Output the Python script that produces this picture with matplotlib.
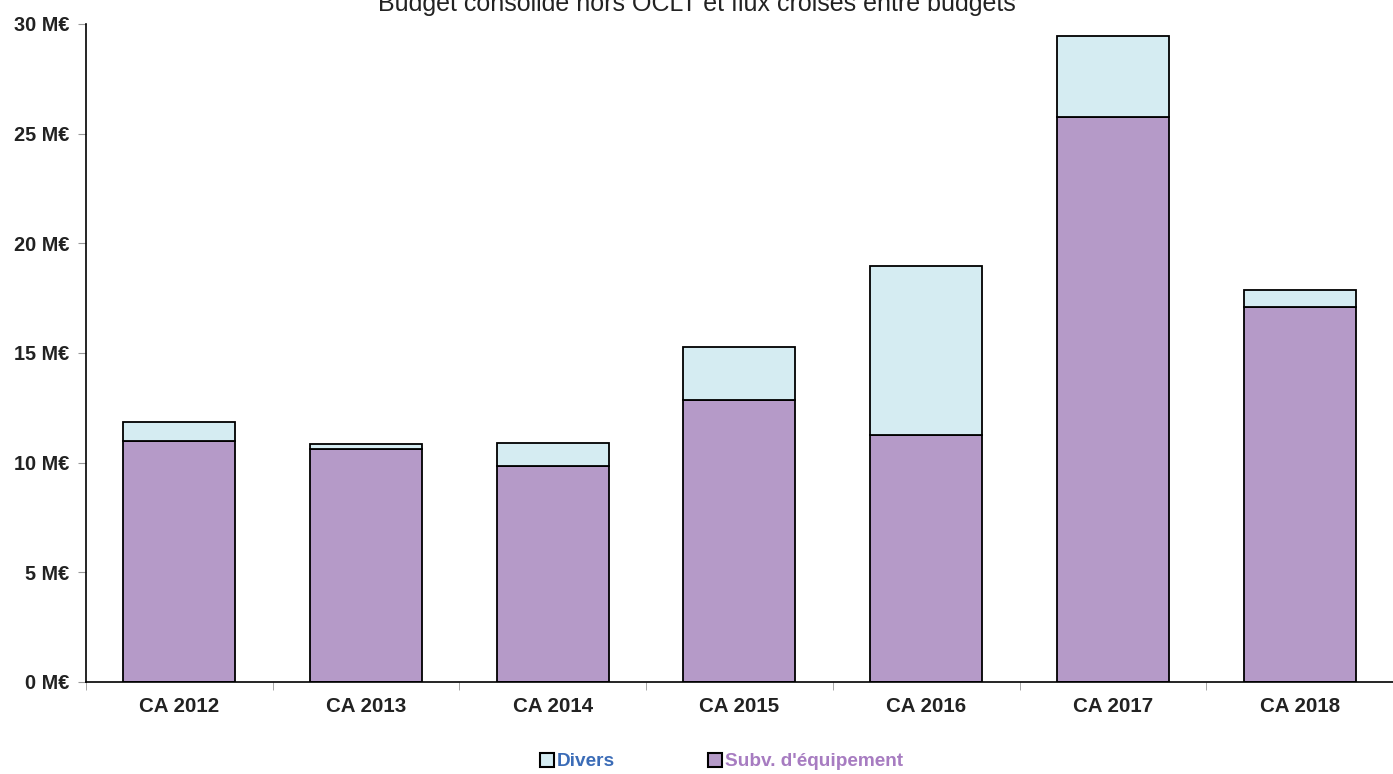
import matplotlib.pyplot as plt
import matplotlib.patches as mpatches
import numpy as np

plt.rcParams['font.family'] = ['Liberation Sans', 'DejaVu Sans']

# data (millions of euros)
annees = ["CA 2012", "CA 2013", "CA 2014", "CA 2015", "CA 2016", "CA 2017", "CA 2018"]
subv_equipement = [11.0, 10.62, 9.85, 12.86, 11.26, 25.76, 17.1]
divers = [0.86, 0.23, 1.05, 2.42, 7.71, 3.7, 0.77]

col_subv = "#b59ac8"
col_divers = "#d5ecf2"

fig = plt.figure(figsize=(13.93, 7.74), dpi=100)
ax = fig.add_axes([0.0617, 0.119, 0.9383, 0.85])

x = np.arange(len(annees))
ax.bar(x, subv_equipement, width=0.6, color=col_subv, edgecolor="black", linewidth=1.3)
ax.bar(x, divers, width=0.6, bottom=subv_equipement, color=col_divers,
       edgecolor="black", linewidth=1.3)

ax.set_xlim(-0.5, len(annees) - 0.5)
ax.set_ylim(0, 30)
ax.set_yticks([0, 5, 10, 15, 20, 25, 30])
ax.set_yticklabels([f"{v} M€" for v in [0, 5, 10, 15, 20, 25, 30]],
                   fontsize=14.3, fontweight="bold", color="#222222")
ax.set_xticks(x)
ax.set_xticklabels(annees, fontsize=14.8, fontweight="bold", color="#222222")
ax.set_xticks(np.arange(-0.5, len(annees)), minor=True)
ax.tick_params(axis="x", which="major", length=0, pad=11)
ax.tick_params(axis="x", which="minor", length=6, color="#999999", direction="out")
ax.tick_params(axis="y", length=6, color="#999999", pad=6)

for s in ["top", "right"]:
    ax.spines[s].set_visible(False)
ax.spines["left"].set_linewidth(1.2)
ax.spines["bottom"].set_linewidth(1.2)

fig.text(0.5, 0.986, "Budget consolidé hors OCLT et flux croisés entre budgets",
         ha="center", va="baseline", fontsize=18, color="#222222")

handles = [mpatches.Patch(facecolor=col_divers, edgecolor="black", linewidth=1.5),
           mpatches.Patch(facecolor=col_subv, edgecolor="black", linewidth=1.5)]
leg = fig.legend(handles, ["Divers", "Subv. d'équipement"], loc="center",
                 bbox_to_anchor=(0.518, 0.016), ncol=2, frameon=False,
                 handlelength=0.75, handleheight=0.75, handletextpad=0.15,
                 columnspacing=4.9, prop={"weight": "bold", "size": 13.7})
leg.get_texts()[0].set_color("#3b6cb7")
leg.get_texts()[1].set_color("#a77cc1")

fig.savefig("out.png", dpi=100)
